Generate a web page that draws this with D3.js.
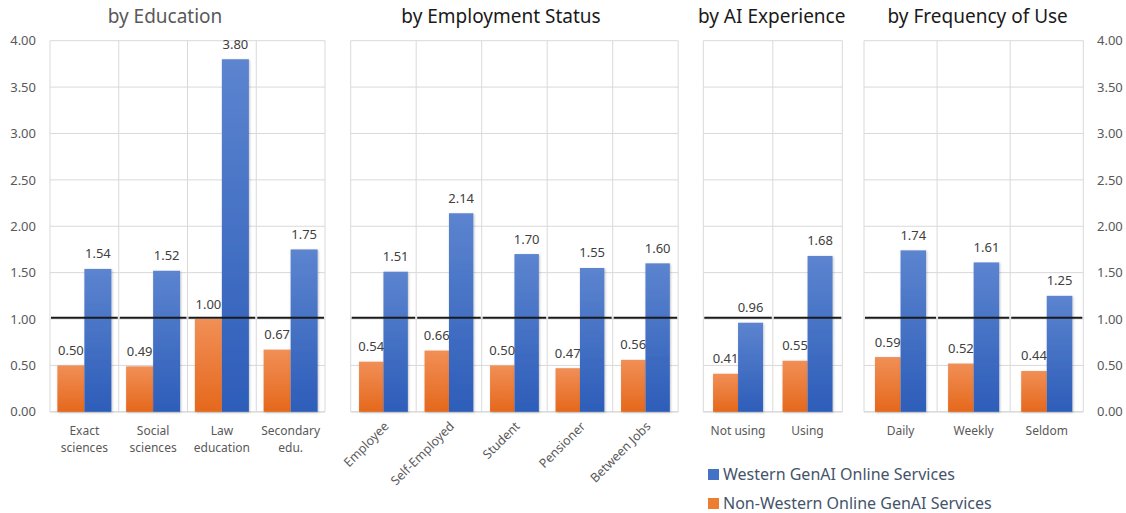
<!DOCTYPE html>
<html><head><meta charset="utf-8">
<script src="https://cdn.jsdelivr.net/npm/d3@7"></script>
<style>
html,body{margin:0;padding:0;background:#fff;}
svg{display:block;font-family:"Noto Sans",sans-serif;}
</style></head>
<body><svg id="c" width="1126" height="513"></svg>
<script>
// ---- data ----
const eduCategories = [["Exact","sciences"],["Social","sciences"],["Law","education"],["Secondary","edu."]];
const eduWestern = [1.54, 1.52, 3.80, 1.75];
const eduNonWestern = [0.50, 0.49, 1.00, 0.67];

const empCategories = ["Employee","Self-Employed","Student","Pensioner","Between Jobs"];
const empWestern = [1.51, 2.14, 1.70, 1.55, 1.60];
const empNonWestern = [0.54, 0.66, 0.50, 0.47, 0.56];

const aiCategories = [["Not using"],["Using"]];
const aiWestern = [0.96, 1.68];
const aiNonWestern = [0.41, 0.55];

const freqCategories = [["Daily"],["Weekly"],["Seldom"]];
const freqWestern = [1.74, 1.61, 1.25];
const freqNonWestern = [0.59, 0.52, 0.44];

const yTicks = [0, 0.5, 1, 1.5, 2, 2.5, 3, 3.5, 4];
const referenceValue = 1.015;
const seriesNames = ["Western GenAI Online Services", "Non-Western Online GenAI Services"];

// ---- layout ----
const svg = d3.select("#c");
const y = d3.scaleLinear().domain([0, 4]).range([411.8, 40.7]);
const fmt = d3.format(".2f");

const defs = svg.append("defs");
function grad(id, top, bottom){
  const g = defs.append("linearGradient").attr("id", id).attr("x1",0).attr("y1",0).attr("x2",0).attr("y2",1);
  g.append("stop").attr("offset","0%").attr("stop-color",top);
  g.append("stop").attr("offset","100%").attr("stop-color",bottom);
}
grad("gBlue", "#5C84CF", "#2D5DB9");
grad("gOrange", "#F18F56", "#E5681C");
const f = defs.append("filter").attr("id","sh").attr("x","-20%").attr("y","-5%").attr("width","140%").attr("height","110%");
f.append("feDropShadow").attr("dx",0.8).attr("dy",0.8).attr("stdDeviation",0.8).attr("flood-color","#000").attr("flood-opacity",0.25);

const panels = [
  {title:"by Education", titleX:165, titleColor:"#595959", x0:50, x1:325, pad:0.273, cats:eduCategories, w:eduWestern, nw:eduNonWestern, rotate:false},
  {title:"by Employment Status", titleX:501, titleColor:"#1a1a1a", x0:350.7, x1:678.2, pad:0.342, cats:empCategories, w:empWestern, nw:empNonWestern, rotate:true},
  {title:"by AI Experience", titleX:771.7, titleColor:"#1a1a1a", x0:703.3, x1:842.3, pad:0.39, cats:aiCategories, w:aiWestern, nw:aiNonWestern, rotate:false},
  {title:"by Frequency of Use", titleX:977.7, titleColor:"#1a1a1a", x0:864, x1:1083.3, pad:0.43, cats:freqCategories, w:freqWestern, nw:freqNonWestern, rotate:false}
];

panels.forEach(p => {
  const keys = p.cats.map((c,i)=>i);
  const x = d3.scaleBand().domain(keys).range([p.x0, p.x1]).padding(0);
  const xs = d3.scaleBand().domain(["nw","w"]).range([0, x.bandwidth()]).paddingInner(0).paddingOuter(p.pad);
  const g = svg.append("g");

  // horizontal gridlines
  g.append("g").selectAll("line").data(yTicks.slice(1)).join("line")
    .attr("x1", p.x0).attr("x2", p.x1).attr("y1", d=>y(d)).attr("y2", d=>y(d))
    .attr("stroke", "#d9d9d9").attr("stroke-width", 1);
  // vertical gridlines
  g.append("g").selectAll("line").data(keys.concat([keys.length])).join("line")
    .attr("x1", d=> d<keys.length ? x(d) : p.x1).attr("x2", d=> d<keys.length ? x(d) : p.x1)
    .attr("y1", y(4)).attr("y2", y(0))
    .attr("stroke", "#d9d9d9").attr("stroke-width", 1);
  // bottom axis line
  g.append("line").attr("x1", p.x0).attr("x2", p.x1).attr("y1", y(0)).attr("y2", y(0))
    .attr("stroke", "#d0d0d0").attr("stroke-width", 1.2);

  const rows = keys.map(i => ({i, nw:p.nw[i], w:p.w[i]}));
  // bars
  const bars = [];
  rows.forEach(r => { bars.push({i:r.i, s:"nw", v:r.nw}); bars.push({i:r.i, s:"w", v:r.w}); });
  g.append("g").selectAll("rect").data(bars).join("rect")
    .attr("x", d => x(d.i) + xs(d.s))
    .attr("width", xs.bandwidth())
    .attr("y", d => y(d.v))
    .attr("height", d => y(0) - y(d.v))
    .attr("fill", d => d.s === "w" ? "url(#gBlue)" : "url(#gOrange)")
    .attr("filter", "url(#sh)");

  // reference line segments per category
  g.append("g").selectAll("line").data(keys).join("line")
    .attr("x1", d => x(d) + 1).attr("x2", d => x(d) + x.bandwidth() - 1)
    .attr("y1", y(referenceValue)).attr("y2", y(referenceValue))
    .attr("stroke", "#1a1a1a").attr("stroke-width", 2);

  // value labels
  g.append("g").selectAll("text").data(bars).join("text")
    .attr("x", d => x(d.i) + xs(d.s) + xs.bandwidth()/2)
    .attr("y", d => y(d.v) - 10.5)
    .attr("text-anchor", "middle")
    .attr("font-size", 13).attr("fill", "#404040")
    .text(d => fmt(d.v));

  // category labels
  if (p.rotate) {
    g.append("g").selectAll("text").data(keys).join("text")
      .attr("transform", d => `translate(${x(d) + x.bandwidth()/2 + 3},${424}) rotate(-45)`)
      .attr("text-anchor", "end").attr("dy", "0.35em")
      .attr("font-size", 12.5).attr("fill", "#595959")
      .text(d => p.cats[d]);
  } else {
    const t = g.append("g").selectAll("text").data(keys).join("text")
      .attr("x", d => x(d) + x.bandwidth()/2)
      .attr("y", 435)
      .attr("text-anchor", "middle")
      .attr("font-size", 12).attr("fill", "#595959");
    t.selectAll("tspan").data(d => p.cats[d].map((s,j)=>({s,j,cx:x(d)+x.bandwidth()/2}))).join("tspan")
      .attr("x", d => d.cx).attr("dy", d => d.j === 0 ? 0 : 16.5)
      .text(d => d.s);
  }

  // title
  svg.append("text").attr("x", p.titleX).attr("y", 23).attr("text-anchor","middle")
    .attr("font-size", 19).attr("fill", p.titleColor).text(p.title);
});

// left axis
const leftAxis = d3.axisLeft(y).tickValues(yTicks).tickFormat(fmt).tickSize(0).tickPadding(0);
const la = svg.append("g").attr("transform","translate(36,0)").call(leftAxis);
la.select(".domain").remove();
la.selectAll("text").attr("font-size", 13).attr("fill", "#595959").attr("font-family","Noto Sans");
// right axis
const rightAxis = d3.axisRight(y).tickValues(yTicks).tickFormat(fmt).tickSize(0).tickPadding(0);
const ra = svg.append("g").attr("transform","translate(1097,0)").call(rightAxis);
ra.select(".domain").remove();
ra.selectAll("text").attr("font-size", 13).attr("fill", "#595959").attr("font-family","Noto Sans");

// legend
const legend = svg.append("g");
const legendColors = ["#4472C4", "#ED7D31"];
const lg = legend.selectAll("g").data(seriesNames).join("g")
  .attr("transform", (d,i) => `translate(708,${469 + i*29})`);
lg.append("rect").attr("width", 11).attr("height", 11).attr("fill", (d,i)=>legendColors[i]);
lg.append("text").attr("x", 15).attr("y", 11).attr("font-size", 16).attr("fill", "#44546A").text(d=>d);
</script></body></html>
